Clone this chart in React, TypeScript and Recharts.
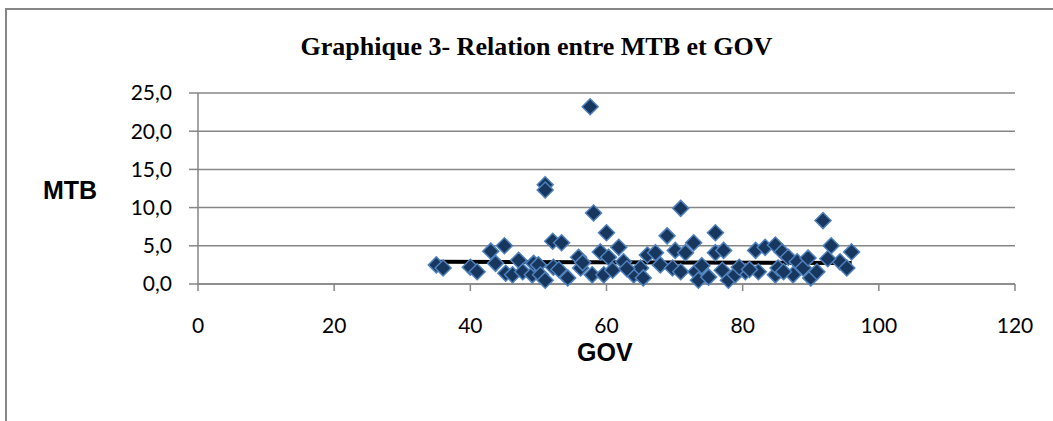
import React from 'react';
import {
    ScatterChart,
    Scatter,
    XAxis,
    YAxis,
    CartesianGrid,
    ReferenceLine,
} from 'recharts';

// GOV values (x) and MTB values (y)
const GOV = [
    35, 36, 40, 41, 43, 43.7, 45, 45.2, 46.2, 47.1, 47.7, 49.1, 49.3, 50, 50.3, 51, 51, 51, 52.1, 52.2,
    53.4, 54.3, 55.9, 56.2, 57.6, 57.9, 58.1, 59.1, 59.6, 60, 60.3, 60.9, 61.8, 62.5, 64, 65, 65.4, 66, 67.2, 67.9,
    68.9, 69.7, 70.1, 70.9, 70.9, 71.6, 72.8, 73.1, 73.5, 75, 76, 76, 77, 77.2, 77.9, 78.9, 80.4, 81.9, 82.3, 83.3,
    84.8, 84.8, 85.2, 85.8, 86.7, 87.4, 88, 88.9, 89.6, 90, 90.9, 91.8, 93, 94.3, 95.3, 96,
    53, 56.5, 63, 74, 79.5, 81, 86, 92.5,
];
const MTB = [
    2.5, 2.1, 2.2, 1.6, 4.3, 2.7, 5.0, 1.4, 1.2, 3.1, 1.6, 1.2, 2.7, 2.5, 1.2, 0.5, 13.0, 12.3, 5.6, 2.2,
    5.4, 0.8, 3.5, 2.1, 23.2, 1.2, 9.3, 4.2, 1.2, 6.7, 3.5, 1.8, 4.8, 2.9, 1.2, 2.1, 0.8, 3.8, 4.1, 2.5,
    6.3, 2.1, 4.4, 1.6, 9.9, 4.1, 5.4, 1.6, 0.5, 0.9, 6.7, 4.1, 1.8, 4.4, 0.5, 1.2, 1.6, 4.4, 1.6, 4.8,
    5.1, 1.2, 2.1, 4.2, 3.5, 1.2, 2.9, 2.1, 3.4, 0.8, 1.6, 8.3, 5.0, 2.9, 2.1, 4.2,
    1.9, 2.8, 2.0, 2.4, 2.2, 1.9, 1.6, 3.3,
];

// linear trend line ends (GOV, MTB)
const TREND_X = [35, 96];
const TREND_Y = [2.9, 2.75];

const X_TICKS = [0, 20, 40, 60, 80, 100, 120];
const Y_TICKS = [0, 5, 10, 15, 20, 25];

const points = GOV.map((g, i) => ({ gov: g, mtb: MTB[i] }));

const GRAY = '#868686';
const tickFont = { fill: '#000', fontSize: 21, fontFamily: 'Lato, sans-serif' };
const axisTitle = {
    position: 'absolute' as const,
    fontFamily: '"Liberation Sans", Arial, sans-serif',
    fontWeight: 'bold' as const,
    fontSize: 25,
};

const Diamond = (props: any) => {
    const { cx, cy } = props;
    const r = 8;
    return (
        <path
            d={`M${cx},${cy - r} L${cx + r},${cy} L${cx},${cy + r} L${cx - r},${cy} Z`}
            fill="#17375E"
            stroke="#4F81BD"
            strokeWidth={1.5}
        />
    );
};

const App: React.FC = () => {
    return (
        <div style={{ position: 'absolute', left: 0, top: 0, width: 1053, height: 421, background: '#fff', overflow: 'hidden' }}>
            {/* chart frame, cut at right and bottom */}
            <div
                style={{
                    position: 'absolute',
                    left: 5,
                    top: 8,
                    width: 1100,
                    height: 500,
                    borderTop: `2px solid ${GRAY}`,
                    borderLeft: `2px solid ${GRAY}`,
                }}
            />
            <div
                style={{
                    position: 'absolute',
                    left: 0,
                    width: 1073,
                    top: 32,
                    textAlign: 'center',
                    fontFamily: '"Liberation Serif", serif',
                    fontWeight: 'bold',
                    fontSize: 26,
                }}
            >
                Graphique 3- Relation entre MTB et GOV
            </div>
            <div style={{ ...axisTitle, left: 43, top: 176 }}>MTB</div>
            <div style={{ ...axisTitle, left: 577, top: 338 }}>GOV</div>
            <div style={{ position: 'absolute', left: 0, top: 0 }}>
                <ScatterChart width={1053} height={421} margin={{ top: 93, right: 38, left: 138, bottom: 107 }}>
                    <CartesianGrid vertical={false} stroke={GRAY} strokeWidth={1.5} />
                    <XAxis
                        type="number"
                        dataKey="gov"
                        domain={[0, 120]}
                        ticks={X_TICKS}
                        interval={0}
                        height={30}
                        axisLine={{ stroke: GRAY, strokeWidth: 1.5 }}
                        tickLine={{ stroke: GRAY, strokeWidth: 1.5 }}
                        tickSize={7}
                        tickMargin={27}
                        tick={tickFont}
                    />
                    <YAxis
                        type="number"
                        dataKey="mtb"
                        domain={[0, 25]}
                        ticks={Y_TICKS}
                        interval={0}
                        width={60}
                        axisLine={{ stroke: GRAY, strokeWidth: 1.5 }}
                        tickLine={{ stroke: GRAY, strokeWidth: 1.5 }}
                        tickSize={9}
                        tickMargin={17}
                        tick={tickFont}
                        tickFormatter={(v: number) => v.toFixed(1).replace('.', ',')}
                    />
                    <Scatter data={points} shape={Diamond} isAnimationActive={false} />
                    <ReferenceLine
                        segment={[
                            { x: TREND_X[0], y: TREND_Y[0] },
                            { x: TREND_X[1], y: TREND_Y[1] },
                        ]}
                        stroke="#000"
                        strokeWidth={4}
                    />
                </ScatterChart>
            </div>
        </div>
    );
};

export default App;
